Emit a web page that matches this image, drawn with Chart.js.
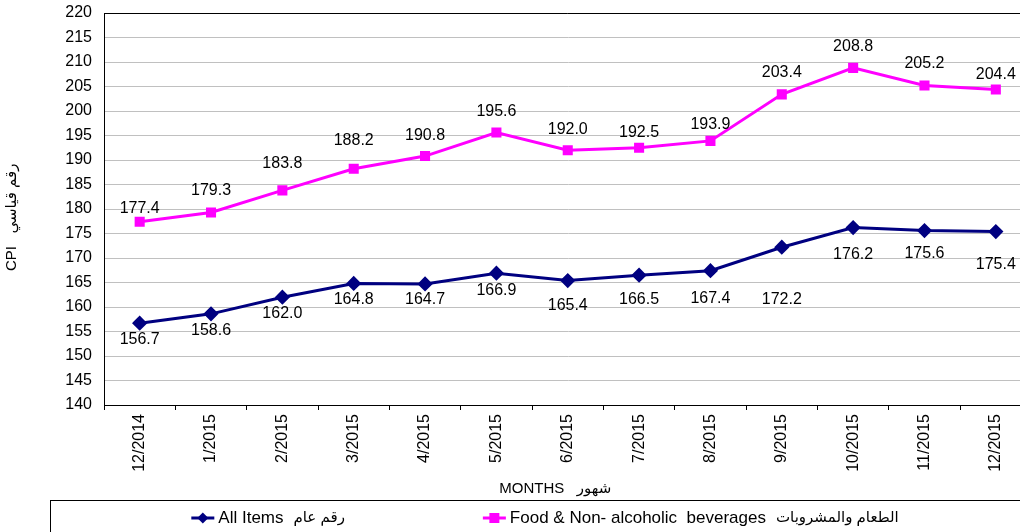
<!DOCTYPE html>
<html>
<head>
<meta charset="utf-8">
<script src="https://cdn.jsdelivr.net/npm/chart.js@4/dist/chart.umd.min.js"></script>
<style>
    html, body { margin: 0; padding: 0; background: #fff; overflow: hidden; }
    #wrap { width: 1040px; height: 532px; }
</style>
</head>
<body>
<div id="wrap"><canvas id="cpiChart"></canvas></div>
<script>
const months = ['12/2014', '1/2015', '2/2015', '3/2015', '4/2015', '5/2015', '6/2015',
    '7/2015', '8/2015', '9/2015', '10/2015', '11/2015', '12/2015'];
const allItems = [156.7, 158.6, 162.0, 164.8, 164.7, 166.9, 165.4, 166.5, 167.4, 172.2, 176.2, 175.6, 175.4];
const foodBeverages = [177.4, 179.3, 183.8, 188.2, 190.8, 195.6, 192.0, 192.5, 193.9, 203.4, 208.8, 205.2, 204.4];
const seriesNamesEn = ['All Items', 'Food & Non- alcoholic  beverages'];
const seriesNamesAr = ['رقم عام', 'الطعام والمشروبات'];
const yMin = 140;
const yMax = 220;
const yStep = 5;

// where each value label sits relative to its point (px, like the original)
const allItemsLabelDy = [16, 17, 16, 16, 16, 17, 25, 24, 28, 52, 27, 23, 33];
const foodLabelDy = [-13, -22, -27, -28, -20, -21, -21, -15, -16, -22, -21, -22, -15];

const FONT = "'Liberation Sans', Arial, 'DejaVu Sans', sans-serif";

function drawMarker(ctx, style, x, y, color) {
    ctx.fillStyle = color;
    ctx.beginPath();
    if (style === 'rectRot') {
        ctx.moveTo(x, y - 5.5);
        ctx.lineTo(x + 5.5, y);
        ctx.lineTo(x, y + 5.5);
        ctx.lineTo(x - 5.5, y);
        ctx.closePath();
    } else {
        ctx.rect(x - 5, y - 5, 10, 10);
    }
    ctx.fill();
}

const valueLabels = {
    id: 'valueLabels',
    afterDatasetsDraw(chart) {
        const ctx = chart.ctx;
        ctx.save();
        ctx.font = '16px ' + FONT;
        ctx.fillStyle = '#000';
        ctx.textAlign = 'center';
        ctx.textBaseline = 'middle';
        chart.data.datasets.forEach((ds, i) => {
            chart.getDatasetMeta(i).data.forEach((pt, j) => {
                ctx.fillText(ds.data[j].toFixed(1), pt.x, pt.y + ds.labelDy[j]);
            });
        });
        ctx.restore();
    }
};

const frameAndLegend = {
    id: 'frameAndLegend',
    afterDraw(chart) {
        const ctx = chart.ctx;
        const a = chart.chartArea;
        ctx.save();
        // top / right border of plot
        ctx.strokeStyle = '#000';
        ctx.lineWidth = 1;
        ctx.beginPath();
        ctx.moveTo(a.left, Math.round(a.top) + 0.5);
        ctx.lineTo(a.right, Math.round(a.top) + 0.5);
        ctx.lineTo(a.right, a.bottom);
        ctx.stroke();

        // legend box
        ctx.strokeRect(50.5, 500.5, 1040, 40);

        const enFont = '17px ' + FONT;
        const arFont = '15px ' + FONT;
        ctx.textBaseline = 'middle';
        ctx.textAlign = 'left';
        const items = chart.data.datasets.map((ds, i) => {
            ctx.font = enFont;
            const wEn = ctx.measureText(seriesNamesEn[i]).width;
            ctx.font = arFont;
            const wAr = ctx.measureText(seriesNamesAr[i]).width;
            return {
                en: seriesNamesEn[i], ar: seriesNamesAr[i], wEn,
                color: ds.borderColor, style: ds.pointStyle,
                w: 27 + wEn + 10 + wAr
            };
        });
        const gap = 138;
        const total = items.reduce((s, it) => s + it.w, 0) + gap * (items.length - 1);
        let x = 545 - total / 2;
        const y = 518;
        items.forEach(it => {
            ctx.strokeStyle = it.color;
            ctx.lineWidth = 3;
            ctx.beginPath();
            ctx.moveTo(x, y);
            ctx.lineTo(x + 23, y);
            ctx.stroke();
            drawMarker(ctx, it.style, x + 11.5, y, it.color);
            ctx.fillStyle = '#000';
            ctx.font = enFont;
            ctx.fillText(it.en, x + 27, y);
            ctx.font = arFont;
            ctx.fillText(it.ar, x + 27 + it.wEn + 10, y);
            x += it.w + gap;
        });
        ctx.restore();
    }
};

function noPadding(scale) {
    scale.paddingTop = 0;
    scale.paddingBottom = 0;
    scale.paddingLeft = 0;
    scale.paddingRight = 0;
}

const ctx = document.getElementById('cpiChart').getContext('2d');

new Chart(ctx, {
    type: 'line',
    data: {
        labels: months,
        datasets: [
            {
                label: seriesNamesEn[0] + ' ' + seriesNamesAr[0],
                data: allItems,
                labelDy: allItemsLabelDy,
                borderColor: '#000080',
                backgroundColor: '#000080',
                borderWidth: 3,
                pointStyle: 'rectRot',
                pointRadius: 5.5,
                fill: false,
                tension: 0
            },
            {
                label: seriesNamesEn[1] + ' ' + seriesNamesAr[1],
                data: foodBeverages,
                labelDy: foodLabelDy,
                borderColor: '#FF00FF',
                backgroundColor: '#FF00FF',
                borderWidth: 3,
                pointStyle: 'rect',
                pointRadius: 5,
                fill: false,
                tension: 0
            }
        ]
    },
    options: {
        responsive: true,
        maintainAspectRatio: false,
        animation: false,
        layout: {
            padding: { left: 0, right: 8, top: 13, bottom: 32 }
        },
        scales: {
            x: {
                offset: true,
                grid: {
                    offset: true,
                    drawOnChartArea: false,
                    drawTicks: true,
                    tickLength: 5,
                    color: '#000'
                },
                border: { color: '#000', width: 1 },
                ticks: {
                    autoSkip: false,
                    minRotation: 90,
                    maxRotation: 90,
                    padding: 4,
                    color: '#000',
                    font: { size: 16, family: FONT }
                },
                title: {
                    display: true,
                    text: 'MONTHS   شهور      ',
                    color: '#000',
                    font: { size: 15, family: FONT },
                    padding: { top: 0, bottom: 2 }
                },
                afterFit(scale) {
                    scale.height = 95;
                    noPadding(scale);
                }
            },
            y: {
                min: yMin,
                max: yMax,
                ticks: {
                    stepSize: yStep,
                    padding: 12,
                    color: '#000',
                    font: { size: 16, family: FONT }
                },
                grid: { color: '#c0c0c0', drawTicks: false },
                border: { color: '#000', width: 1 },
                title: {
                    display: true,
                    text: 'CPI   رقم قياسي    ',
                    color: '#000',
                    font: { size: 15, family: FONT },
                    padding: { top: 3, bottom: 0 }
                },
                afterFit(scale) {
                    scale.width = 104;
                    noPadding(scale);
                }
            }
        },
        plugins: {
            legend: { display: false },
            title: { display: false },
            tooltip: { enabled: false }
        }
    },
    plugins: [valueLabels, frameAndLegend]
});
</script>
</body>
</html>
